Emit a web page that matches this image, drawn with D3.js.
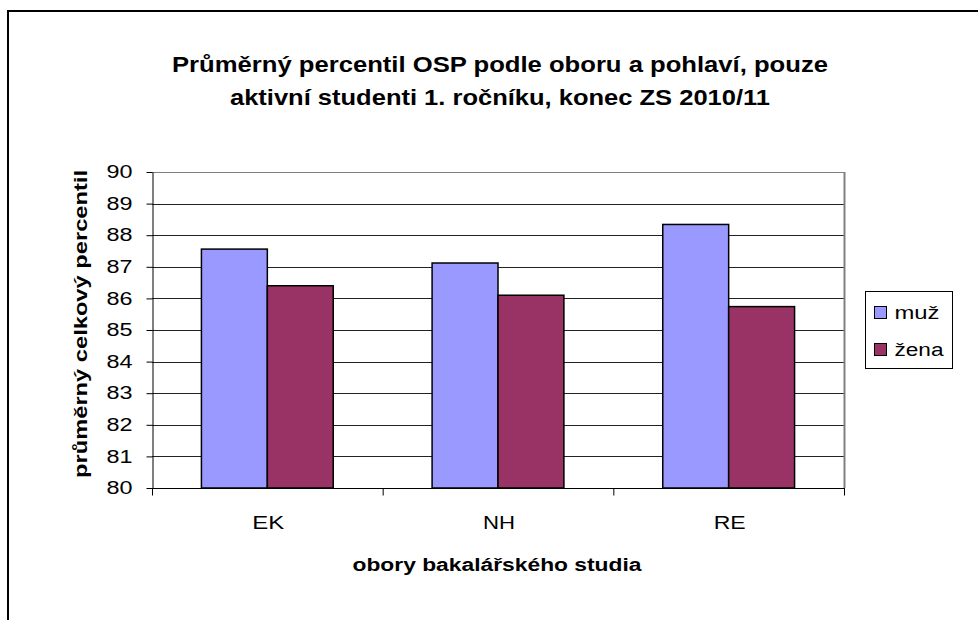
<!DOCTYPE html>
<html>
<head>
<meta charset="utf-8">
<script src="https://d3js.org/d3.v7.min.js"></script>
<style>
  body { margin: 0; background: #fff; }
  text { font-family: "Liberation Sans", Arial, sans-serif; fill: #000; }
</style>
</head>
<body>
<svg id="chart" width="978" height="620"></svg>
<script>
// data
var obory = ["EK", "NH", "RE"];
var serie = ["muž", "žena"];
var muz = [87.56, 87.12, 88.34];
var zena = [86.40, 86.10, 85.74];
var barvy = ["#9999ff", "#993366"];
var yTicks = [80, 81, 82, 83, 84, 85, 86, 87, 88, 89, 90];

var svg = d3.select("#chart");

// outer frame
svg.append("rect")
  .attr("x", 8).attr("y", 11)
  .attr("width", 975).attr("height", 620)
  .attr("fill", "none").attr("stroke", "#000").attr("stroke-width", 2);

var pLeft = 152, pTop = 172, pRight = 844, pBottom = 488;

var x = d3.scaleBand().domain(obory).range([pLeft, pRight]);
var x1 = d3.scaleBand().domain(serie).range([0, x.bandwidth()]).paddingOuter(0.75).paddingInner(0);
var y = d3.scaleLinear().domain([80, 90]).range([pBottom, pTop]);

// gridlines
svg.append("g").selectAll("line").data(yTicks.slice(1)).enter().append("line")
  .attr("x1", pLeft).attr("x2", pRight)
  .attr("y1", function(d) { return Math.round(y(d)) + 0.5; })
  .attr("y2", function(d) { return Math.round(y(d)) + 0.5; })
  .attr("stroke", function(d) { return d == 90 ? "#808080" : "#222"; })
  .attr("stroke-width", 1);

// right border of plot area
svg.append("line")
  .attr("x1", pRight + 0.5).attr("x2", pRight + 0.5)
  .attr("y1", pTop).attr("y2", pBottom)
  .attr("stroke", "#808080").attr("stroke-width", 2);

// bars
var data = [];
obory.forEach(function(o, i) {
  data.push({ obor: o, s: serie[0], v: muz[i], c: barvy[0] });
  data.push({ obor: o, s: serie[1], v: zena[i], c: barvy[1] });
});
svg.append("g").selectAll("rect").data(data).enter().append("rect")
  .attr("x", function(d) { return x(d.obor) + x1(d.s); })
  .attr("y", function(d) { return y(d.v); })
  .attr("width", x1.bandwidth())
  .attr("height", function(d) { return pBottom - y(d.v); })
  .attr("fill", function(d) { return d.c; })
  .attr("stroke", "#000").attr("stroke-width", 1.5);

// y axis
var yAxis = d3.axisLeft(y).tickValues(yTicks).tickSize(6).tickPadding(14).tickSizeOuter(0);
var gy = svg.append("g").attr("transform", "translate(" + (pLeft + 0.5) + ",0)").call(yAxis);
gy.selectAll("text").attr("font-size", null).attr("font-family", null)
  .attr("textLength", 26).attr("lengthAdjust", "spacingAndGlyphs")
  .style("font-size", "17.5px");
gy.selectAll("line, path").attr("stroke", "#000");

// x axis
var gx = svg.append("g").attr("transform", "translate(0," + (pBottom + 0.5) + ")");
gx.append("line").attr("x1", pLeft).attr("x2", pRight + 1).attr("stroke", "#000");
gx.selectAll(".tk").data(d3.range(obory.length + 1)).enter().append("line")
  .attr("x1", function(i) { return pLeft + 0.5 + i * x.bandwidth(); })
  .attr("x2", function(i) { return pLeft + 0.5 + i * x.bandwidth(); })
  .attr("y1", 0).attr("y2", 7).attr("stroke", "#000");
gx.selectAll("text").data(obory).enter().append("text")
  .attr("x", function(d) { return x(d) + x.bandwidth() / 2 + 1; })
  .attr("y", 40)
  .attr("text-anchor", "middle")
  .attr("textLength", 32).attr("lengthAdjust", "spacingAndGlyphs")
  .style("font-size", "18px")
  .text(function(d) { return d; });

// titles
var title = ["Průměrný percentil OSP podle oboru a pohlaví, pouze",
             "aktivní studenti 1. ročníku, konec ZS 2010/11"];
var titleW = [656, 540];
svg.selectAll(".title").data(title).enter().append("text")
  .attr("x", 500).attr("y", function(d, i) { return 72 + i * 33; })
  .attr("text-anchor", "middle")
  .attr("textLength", function(d, i) { return titleW[i]; })
  .attr("lengthAdjust", "spacingAndGlyphs")
  .style("font-size", "22px").style("font-weight", "bold")
  .text(function(d) { return d; });

svg.append("text")
  .attr("transform", "translate(87,324) rotate(-90)")
  .attr("text-anchor", "middle")
  .attr("textLength", 308).attr("lengthAdjust", "spacingAndGlyphs")
  .style("font-size", "19px").style("font-weight", "bold")
  .text("průměrný celkový percentil");

svg.append("text")
  .attr("x", 497).attr("y", 571)
  .attr("text-anchor", "middle")
  .attr("textLength", 289).attr("lengthAdjust", "spacingAndGlyphs")
  .style("font-size", "17.5px").style("font-weight", "bold")
  .text("obory bakalářského studia");

// legend
var legW = [45, 49];
var lg = svg.append("g").attr("transform", "translate(865.5,291.5)");
lg.append("rect").attr("width", 87).attr("height", 77)
  .attr("fill", "#fff").attr("stroke", "#000").attr("stroke-width", 1);
var li = lg.selectAll(".li").data(serie).enter().append("g")
  .attr("transform", function(d, i) { return "translate(0," + (21 + i * 37) + ")"; });
li.append("rect").attr("x", 9).attr("y", -6).attr("width", 12).attr("height", 12)
  .attr("fill", function(d, i) { return barvy[i]; })
  .attr("stroke", "#000").attr("stroke-width", 1);
li.append("text").attr("x", 29).attr("y", 6)
  .attr("textLength", function(d, i) { return legW[i]; })
  .attr("lengthAdjust", "spacingAndGlyphs")
  .style("font-size", "18px")
  .text(function(d) { return d; });
</script>
</body>
</html>
